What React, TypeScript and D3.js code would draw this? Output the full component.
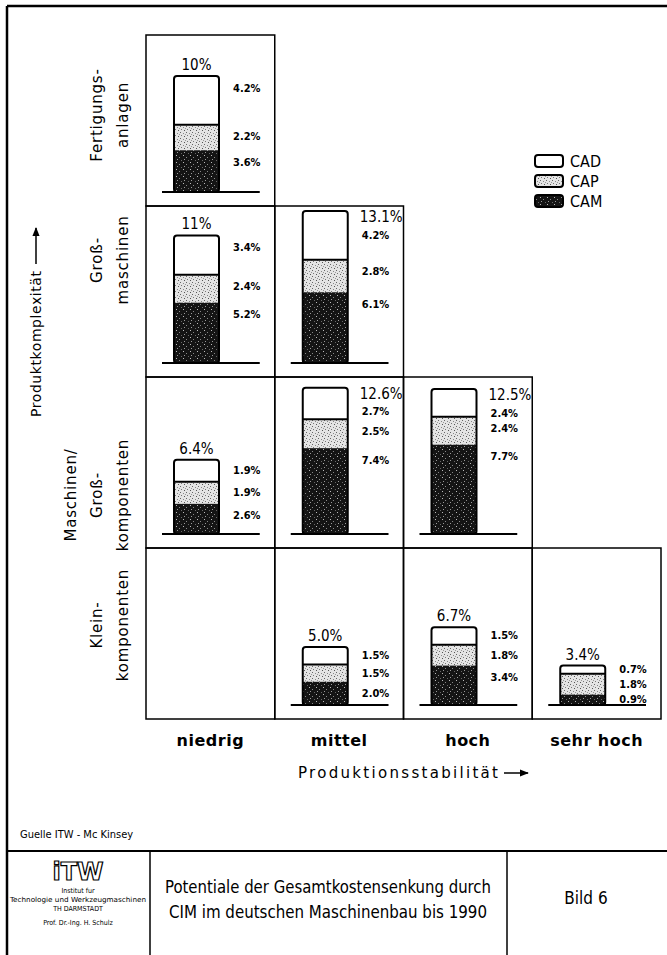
import React from 'react';
import * as d3 from 'd3';

// Rows (product complexity, top = most complex) and columns (production stability)
const rowNames = ['Fertigungsanlagen', 'Großmaschinen', 'Maschinen/Großkomponenten', 'Kleinkomponenten'];
const rowLabelLines = [['Fertigungs-', 'anlagen'], ['Groß-', 'maschinen'], ['Maschinen/', 'Groß-', 'komponenten'], ['Klein-', 'komponenten']];
const colNames = ['niedrig', 'mittel', 'hoch', 'sehr hoch'];

// one entry per filled cell
const cellRow = [0, 1, 1, 2, 2, 2, 3, 3, 3];
const cellCol = [0, 0, 1, 0, 1, 2, 1, 2, 3];
const totalLabels = ['10%', '11%', '13.1%', '6.4%', '12.6%', '12.5%', '5.0%', '6.7%', '3.4%'];
const totals = [10, 11, 13.1, 6.4, 12.6, 12.5, 5.0, 6.7, 3.4];
const cadValues = [4.2, 3.4, 4.2, 1.9, 2.7, 2.4, 1.5, 1.5, 0.7];
const capValues = [2.2, 2.4, 2.8, 1.9, 2.5, 2.4, 1.5, 1.8, 1.8];
const camValues = [3.6, 5.2, 6.1, 2.6, 7.4, 7.7, 2.0, 3.4, 0.9];
const seriesNames = ['CAD', 'CAP', 'CAM'];

const FONT = "'DejaVu Sans Condensed','Liberation Sans Narrow','DejaVu Sans',sans-serif";
const PLAIN = "'DejaVu Sans',sans-serif";
// vertical centre of the hand-placed row captions
const rowLabelCenter = [115, 260, 495, 625];

const App: React.FC = () => {
  const W = 667;
  const H = 955;
  const colX = d3.scaleBand<string>().domain(colNames).range([146, 661]);
  const rowY = d3.scaleBand<string>().domain(rowNames).range([35, 719]);
  const h = d3.scaleLinear().domain([0, 10]).range([0, 116]);
  const fills = ['#ffffff', 'url(#capPat)', 'url(#camPat)'];

  const boxes: { x: number; y: number }[] = [];
  rowNames.forEach((r, ri) => {
    colNames.forEach((c, ci) => {
      if (ci <= ri) boxes.push({ x: colX(c) || 0, y: rowY(r) || 0 });
    });
  });

  return (
    <svg width={W} height={H} style={{ position: 'absolute', left: 0, top: 0, background: '#fff' }}>
      <defs>
        <pattern id="capPat" width="6" height="6" patternUnits="userSpaceOnUse">
          <rect width="6" height="6" fill="#e4e4e4" />
          <rect x="0" y="0" width="1" height="1" fill="#666" />
          <rect x="3" y="1" width="1" height="1" fill="#888" />
          <rect x="1" y="3" width="1" height="1" fill="#777" />
          <rect x="4" y="4" width="1" height="1" fill="#555" />
          <rect x="5" y="2" width="1" height="1" fill="#999" />
        </pattern>
        <pattern id="camPat" width="7" height="7" patternUnits="userSpaceOnUse">
          <rect width="7" height="7" fill="#141414" />
          <rect x="1" y="1" width="1" height="1" fill="#bbb" />
          <rect x="4" y="3" width="1" height="1" fill="#888" />
          <rect x="2" y="5" width="1" height="1" fill="#999" />
          <rect x="6" y="6" width="1" height="1" fill="#666" />
        </pattern>
        <marker id="arr" viewBox="0 0 10 10" refX="9" refY="5" markerWidth="6" markerHeight="6" orient="auto">
          <path d="M0,1 L10,5 L0,9 z" fill="#000" />
        </marker>
      </defs>

      {/* outer frame */}
      <line x1={7} x2={W} y1={6} y2={6} stroke="#000" strokeWidth={2.5} />
      <line x1={7} x2={7} y1={6} y2={H} stroke="#000" strokeWidth={2.5} />

      {/* staircase grid */}
      {boxes.map((b, i) => (
        <rect key={i} x={b.x} y={b.y} width={colX.bandwidth()} height={rowY.bandwidth()} fill="none" stroke="#000" strokeWidth={1.5} />
      ))}

      {/* bars */}
      {totals.map((t, i) => {
        const cx = colX(colNames[cellCol[i]]) || 0;
        const cy = rowY(rowNames[cellRow[i]]) || 0;
        const base = cy + rowY.bandwidth() - 14;
        const bx = cx + 28;
        const bw = 45;
        const vals = [cadValues[i], capValues[i], camValues[i]];
        const top = base - h(t);
        // segment tops, CAD on top
        const segTops = [top, top + h(vals[0]), top + h(vals[0]) + h(vals[1])];
        const labelRight = top - cy < 25;
        const totalY = labelRight ? top + 6 : top - 11;
        let prev = labelRight ? totalY + 18 - 12.5 : -Infinity;
        const labY = vals.map((v, k) => {
          const d = segTops[k] + Math.min(h(v) / 2, 12);
          const y = Math.max(d, prev + 12.5);
          prev = y;
          return y;
        });
        return (
          <g key={i}>
            {vals.map((v, k) => (
              <rect key={k} x={bx} y={segTops[k]} width={bw} height={h(v)} fill={fills[k]} />
            ))}
            <line x1={bx} x2={bx + bw} y1={segTops[1]} y2={segTops[1]} stroke="#000" strokeWidth={2} />
            <rect x={bx} y={top} width={bw} height={h(t)} rx={3} fill="none" stroke="#000" strokeWidth={2} />
            <line x1={cx + 16} x2={cx + colX.bandwidth() - 15} y1={base} y2={base} stroke="#000" strokeWidth={2} />
            <text x={labelRight ? cx + 85 : bx + bw / 2} y={totalY} dominantBaseline="central" textAnchor={labelRight ? 'start' : 'middle'} fontFamily={FONT} fontSize={15} fill="#000">
              {totalLabels[i]}
            </text>
            {vals.map((v, k) => (
              <text key={k} x={cx + 87} y={labY[k]} dominantBaseline="central" fontFamily={FONT} fontWeight="bold" fontSize={11} fill="#000">
                {v.toFixed(1)}%
              </text>
            ))}
          </g>
        );
      })}

      {/* row labels */}
      {rowNames.map((r, ri) => {
        const lines = rowLabelLines[ri];
        const cy = rowLabelCenter[ri];
        return lines.map((ln, li) => {
          const x = 123 - (lines.length - 1 - li) * 26;
          return (
            <text key={r + li} transform={`translate(${x},${cy}) rotate(-90)`} textAnchor="middle" dominantBaseline="central" fontFamily={PLAIN} fontSize={15} letterSpacing={0.8} fill="#000">
              {ln}
            </text>
          );
        });
      })}

      {/* y axis title */}
      <text transform="translate(36,417) rotate(-90)" dominantBaseline="central" fontFamily={PLAIN} fontSize={14} textLength={146} lengthAdjust="spacing" fill="#000">
        Produktkomplexität
      </text>
      <line x1={36} x2={36} y1={264} y2={228} stroke="#000" strokeWidth={1.5} markerEnd="url(#arr)" />

      {/* column labels */}
      {colNames.map(c => (
        <text key={c} x={(colX(c) || 0) + colX.bandwidth() / 2} y={746} textAnchor="middle" fontFamily={PLAIN} fontWeight="bold" fontSize={16} letterSpacing={0.5} fill="#000">
          {c}
        </text>
      ))}
      <text x={298} y={778} fontFamily={PLAIN} fontSize={15} textLength={200} lengthAdjust="spacing" fill="#000">
        Produktionsstabilität
      </text>
      <line x1={504} x2={528} y1={773} y2={773} stroke="#000" strokeWidth={1.5} markerEnd="url(#arr)" />

      {/* legend */}
      {seriesNames.map((s, k) => (
        <g key={s}>
          <rect x={535} y={155 + k * 20} width={28} height={12} rx={3} fill={fills[k]} stroke="#000" strokeWidth={2} />
          <text x={570} y={161 + k * 20} dominantBaseline="central" fontFamily={FONT} fontSize={16} fill="#000">
            {s}
          </text>
        </g>
      ))}

      {/* source */}
      <text x={20} y={838} fontFamily={FONT} fontSize={11} fill="#000">Guelle  ITW - Mc Kinsey</text>

      {/* title block */}
      <line x1={7} x2={W} y1={851} y2={851} stroke="#000" strokeWidth={2} />
      <line x1={150} x2={150} y1={851} y2={H} stroke="#000" strokeWidth={1.5} />
      <line x1={507} x2={507} y1={851} y2={H} stroke="#000" strokeWidth={1.5} />
      <text x={78} y={880} textAnchor="middle" fontFamily={PLAIN} fontWeight="bold" fontSize={24} fill="#fff" stroke="#000" strokeWidth={1.2}>iTW</text>
      <text x={78} y={893} textAnchor="middle" fontFamily={FONT} fontSize={7} fill="#000">Institut fur</text>
      <text x={78} y={902} textAnchor="middle" fontFamily={FONT} fontSize={7} fill="#000" textLength={136} lengthAdjust="spacingAndGlyphs">Technologie und Werkzeugmaschinen</text>
      <text x={78} y={911} textAnchor="middle" fontFamily={FONT} fontSize={7} fill="#000">TH DARMSTADT</text>
      <text x={78} y={925} textAnchor="middle" fontFamily={FONT} fontSize={7} fill="#000">Prof. Dr.-Ing. H. Schulz</text>
      <text x={328} y={893} textAnchor="middle" fontFamily={FONT} fontSize={17} fill="#000" textLength={326} lengthAdjust="spacingAndGlyphs">Potentiale der Gesamtkostensenkung durch</text>
      <text x={328} y={918} textAnchor="middle" fontFamily={FONT} fontSize={17} fill="#000" textLength={318} lengthAdjust="spacingAndGlyphs">CIM im deutschen Maschinenbau bis 1990</text>
      <text x={586} y={904} textAnchor="middle" fontFamily={FONT} fontSize={17} fill="#000">Bild 6</text>
    </svg>
  );
};

export default App;
